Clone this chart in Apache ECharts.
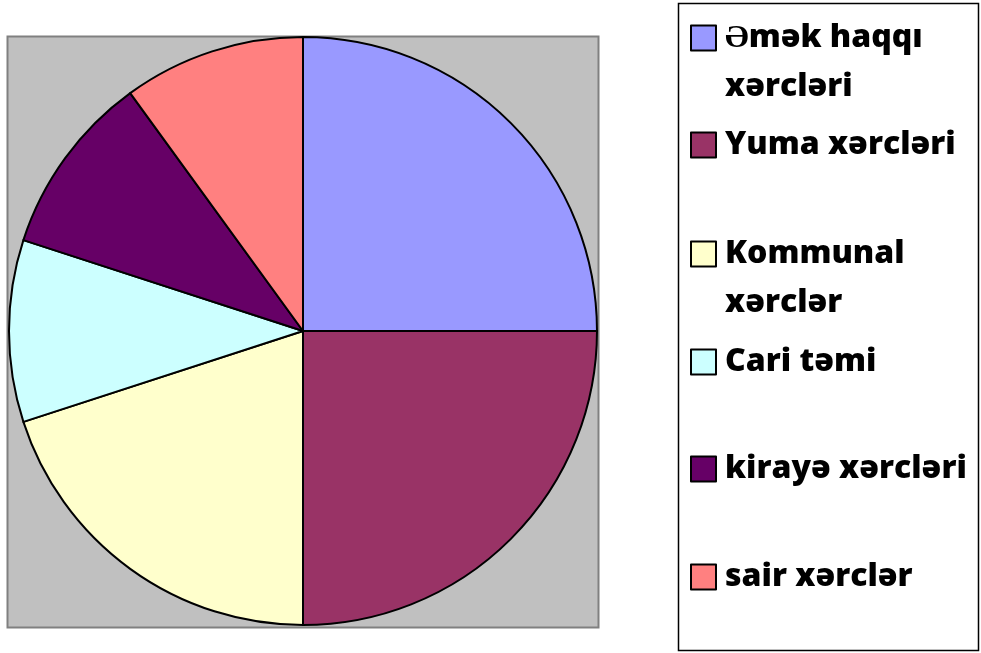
<!DOCTYPE html>
<html>
<head>
<meta charset="utf-8">
<script src="https://cdn.jsdelivr.net/npm/echarts@6/dist/echarts.min.js"></script>
<style>
html,body{margin:0;padding:0;background:#fff;}
#chart{width:981px;height:653px;}
</style>
</head>
<body>
<div id="chart"></div>
<script>
const categories = ["Əmək haqqı xərcləri", "Yuma xərcləri", "Kommunal xərclər", "Cari təmi", "kirayə xərcləri", "sair xərclər"];
const legendLabels = ["Əmək haqqı\nxərcləri", "Yuma xərcləri", "Kommunal\nxərclər", "Cari təmi", "kirayə xərcləri", "sair xərclər"];
const values = [25, 25, 20, 10, 10, 10];
const colors = ["#9999FF", "#993366", "#FFFFCC", "#CCFFFF", "#660066", "#FF8080"];

const iconCenters = [38, 145, 254, 362, 469, 577];
const LH = 49;

const chart = echarts.init(document.getElementById('chart'), null, {renderer: 'canvas'});

const legends = categories.map((name, i) => {
  const twoLine = legendLabels[i].indexOf('\n') >= 0;
  return {
    data: [name],
    orient: 'vertical',
    left: 690,
    top: twoLine ? iconCenters[i] - 1.5 * LH : iconCenters[i] - LH / 2,
    padding: 0,
    itemWidth: 25,
    itemHeight: 25,
    itemGap: 0,
    icon: 'rect',
    selectedMode: false,
    itemStyle: {borderColor: '#000', borderWidth: 2},
    formatter: () => twoLine ? ' \n' + legendLabels[i] : legendLabels[i],
    textStyle: {
      fontFamily: 'Open Sans',
      fontWeight: 800,
      fontSize: 32,
      color: '#000',
      lineHeight: LH,
      padding: [0, 0, 0, 4]
    }
  };
});

chart.setOption({
  animation: false,
  color: colors,
  graphic: [
    {type: 'rect', shape: {x: 7.5, y: 36.5, width: 591, height: 591}, style: {fill: '#C0C0C0', stroke: '#808080', lineWidth: 2}, z: -10},
    {type: 'rect', shape: {x: 678.5, y: 3.5, width: 300, height: 647}, style: {fill: '#fff', stroke: '#000', lineWidth: 1.5}, z: -10}
  ],
  legend: legends,
  series: [{
    type: 'pie',
    center: [303, 331],
    radius: 294,
    startAngle: 90,
    clockwise: true,
    label: {show: false},
    labelLine: {show: false},
    emphasis: {disabled: true},
    itemStyle: {borderColor: '#000', borderWidth: 2},
    data: categories.map((n, i) => ({name: n, value: values[i]}))
  }]
});
</script>
</body>
</html>
